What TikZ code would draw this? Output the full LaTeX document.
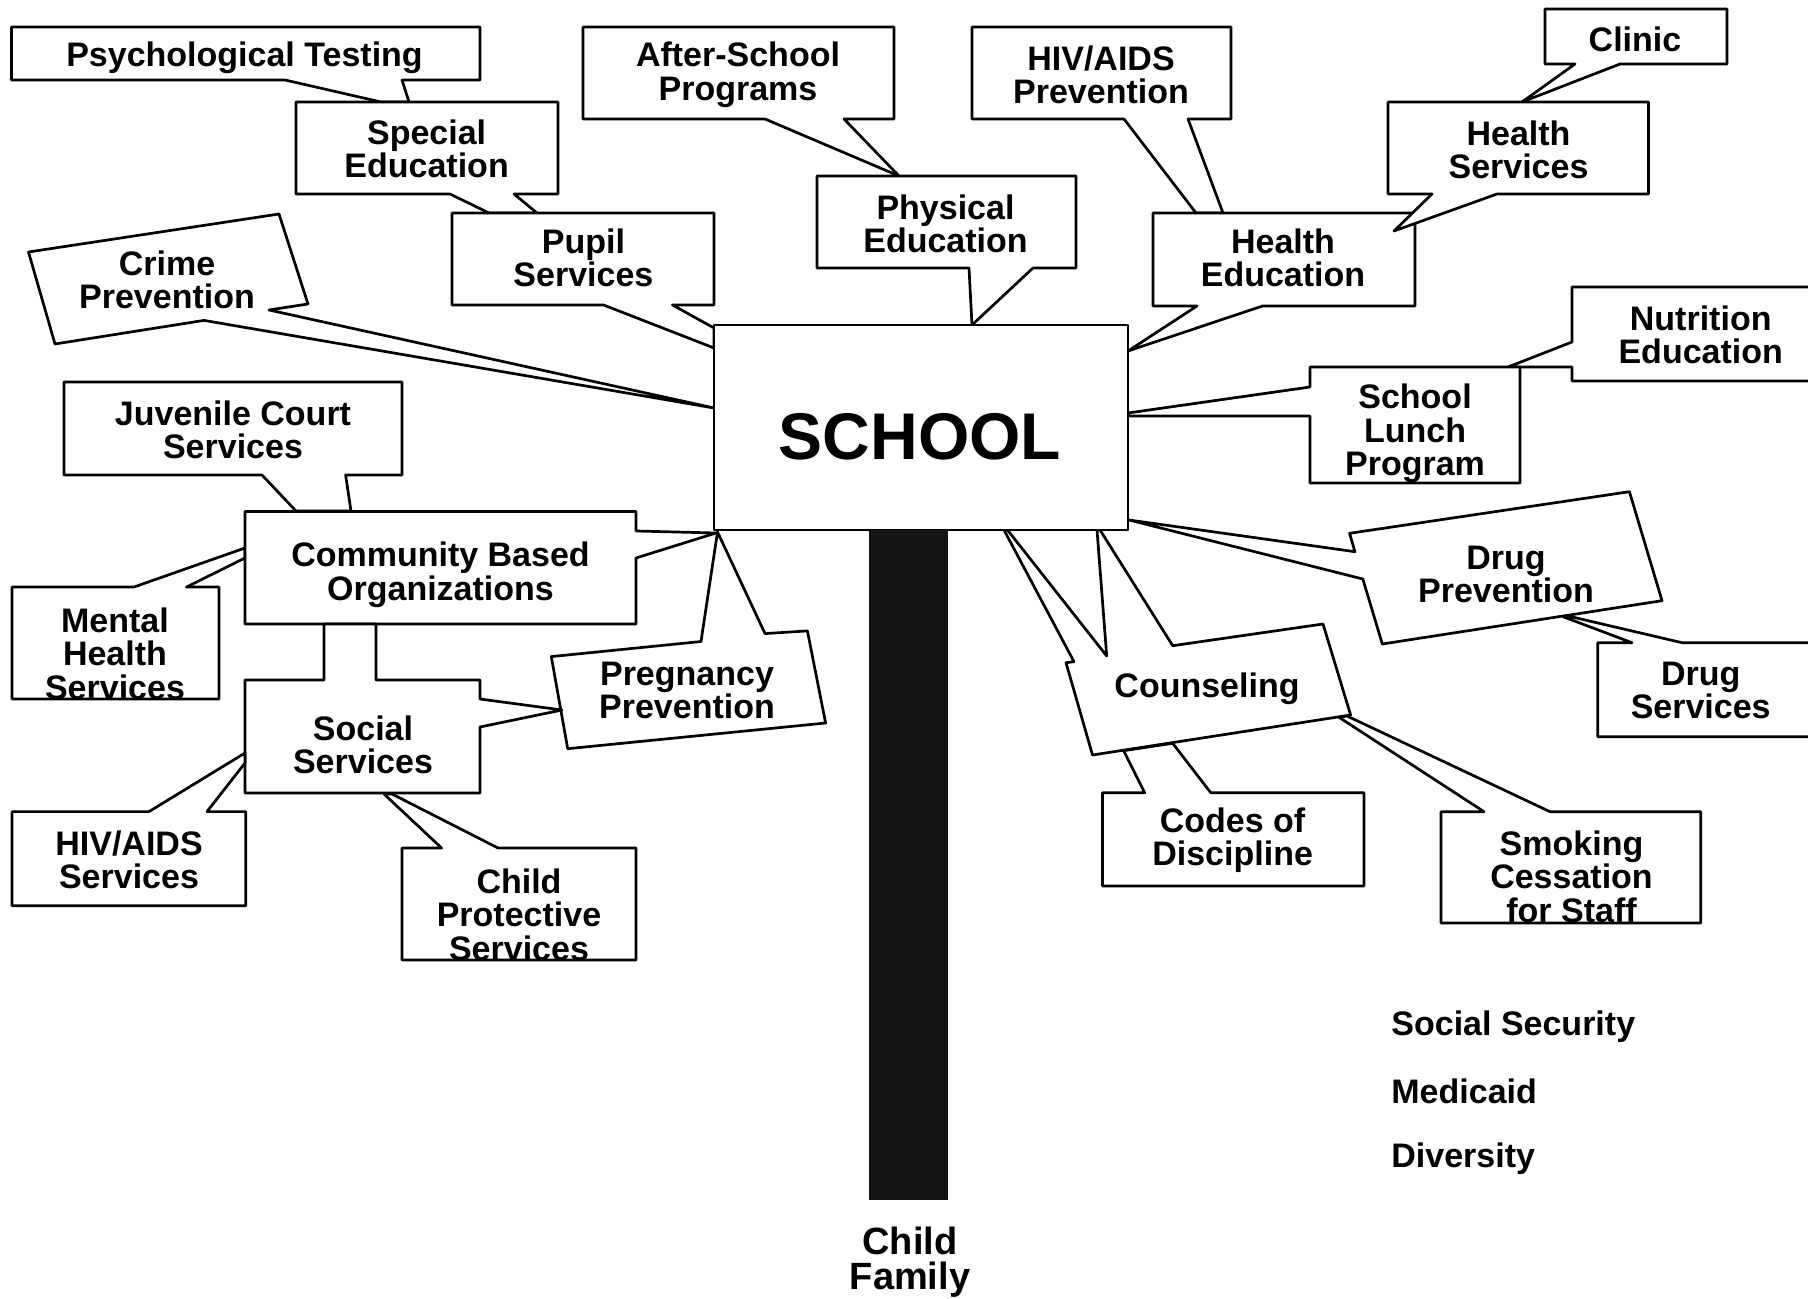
\documentclass[tikz,border=0pt]{standalone}
\usepackage{fontspec}
\setmainfont{Liberation Sans}
\usetikzlibrary{positioning}

\tikzset{
  callout/.style={draw=black,fill=white,line width=1.35pt},
  lbl/.style={font=\bfseries\fontsize{17}{16.7}\selectfont,align=center,inner sep=0pt,yshift=-1.8pt},
  biglbl/.style={font=\bfseries\fontsize{33}{36}\selectfont,inner sep=0pt},
  polelbl/.style={font=\bfseries\fontsize{19}{17.5}\selectfont,align=center,inner sep=0pt},
  listlbl/.style={font=\bfseries\fontsize{17}{17}\selectfont,anchor=west,inner sep=0pt}
}

\begin{document}
\begin{tikzpicture}[line cap=round,line join=round,x=0.5pt,y=-0.5pt]
\useasboundingbox (0,0) rectangle (1808,1299);
\clip (0,0) rectangle (1808,1299);
% top left
\draw [callout] (11.5,27)--(480,27)--(480,80)--(402,80)--(409,102)--(381,102)--(285,80)--(11.5,80)--cycle;
\draw [callout] (296,102)--(558,102)--(558,194)--(514,194)--(537,213)--(489,213)--(450,194)--(296,194)--cycle;
\draw [callout] (28.5,252)--(279,214)--(308,304)--(269,310)--(714,408)--(204,320.4)--(55,344)--cycle;
\draw [callout] (452,213)--(714,213)--(714,305)--(672.5,305)--(714,328)--(714,348)--(603.6,305)--(452,305)--cycle;
% top middle
\draw [callout] (583,27)--(894,27)--(894,119)--(844,119)--(899,176)--(765,119)--(583,119)--cycle;
\draw [callout] (817,176)--(1076,176)--(1076,268)--(1033,268)--(972,325)--(969,268)--(817,268)--cycle;
\draw [callout] (972,27)--(1231,27)--(1231,119)--(1188,119)--(1223,213)--(1196,213)--(1124,119)--(972,119)--cycle;
\draw [callout] (1153,213)--(1415,213)--(1415,306)--(1262.5,306)--(1128,351)--(1197,306)--(1153,306)--cycle;
% top right
\draw [callout] (1545,9)--(1727,9)--(1727,64)--(1620,64)--(1522,102)--(1575,64)--(1545,64)--cycle;
\draw [callout] (1388,102)--(1648.5,102)--(1648.5,194)--(1497,194)--(1394,231)--(1432,194)--(1388,194)--cycle;
\draw [callout] (1572,287)--(1830,287)--(1830,381)--(1572,381)--(1572,367)--(1508,367)--(1572,342)--cycle;
\draw [callout] (1310,367)--(1520,367)--(1520,483)--(1310,483)--(1310,416)--(1128,416)--(1128,413)--(1310,387)--cycle;
% left side
\draw [callout] (64,382)--(402,382)--(402,475)--(345.6,475)--(351,511)--(296,511)--(262,475)--(64,475)--cycle;
\draw [callout] (12,587)--(134,587)--(245,548)--(245,558)--(186.5,587)--(219,587)--(219,699)--(12,699)--cycle;
\draw [callout] (245,511.4)--(636,511.4)--(636,531)--(716,533)--(636,558)--(636,624)--(245,624)--cycle;
\draw [callout] (551.3,656.6)--(701,641.5)--(717.5,532)--(765,633.6)--(807.4,630.9)--(825.6,723)--(567.7,748.7)--cycle;
\draw [callout] (245,680)--(324,680)--(324,624)--(376,624)--(376,680)--(480,680)--(480,699)--(562,710)--(480,727)--(480,793)--(245,793)--cycle;
\draw [callout] (12,811.6)--(149,811.6)--(245,753)--(245,763)--(207,811.6)--(245.7,811.6)--(245.7,905.7)--(12,905.7)--cycle;
\draw [callout] (402,848)--(441.6,848)--(384,794)--(392,794)--(498,848)--(636,848)--(636,960)--(402,960)--cycle;
% right side
\draw [callout] (1597.7,642.7)--(1632,642.7)--(1563,616.7)--(1571,616.7)--(1682,642.7)--(1830,642.7)--(1830,736.7)--(1597.7,736.7)--cycle;
\draw [callout] (1349.6,533.3)--(1629.4,491.7)--(1662,600.7)--(1382.3,644)--(1362.8,579)--(1129,520)--(1354.9,551.7)--cycle;
\draw [callout] (1102.5,792.7)--(1144.7,792.7)--(1123.6,750.7)--(1172.7,743.3)--(1210.7,792.7)--(1364,792.7)--(1364,886)--(1102.5,886)--cycle;
\draw [callout] (1441,811.7)--(1484,811.7)--(1339,717.3)--(1347,716)--(1550,811.7)--(1700.7,811.7)--(1700.7,923)--(1441,923)--cycle;
\draw [callout] (1066,662.7)--(1074,661.7)--(1004,530)--(1007.5,530)--(1106.7,656)--(1097,530)--(1100,530)--(1172.7,645.7)--(1323,624)--(1350.6,715)--(1092.5,755)--cycle;
% school and pole
\draw [callout] (714,325) rectangle (1128,530);
\fill [black!92] (869,530) rectangle (948,1200);
\node [biglbl] (school) at (920,437) {SCHOOL};
\node [polelbl] (child) at (910,1262) {Child\\Family};
% labels
\node [lbl] (psych) at (244.5,54) {Psychological Testing};
\node [lbl] (special) at (426.6,145) {Special\\Education};
\node [lbl] (crime) at (167,276) {Crime\\Prevention};
\node [lbl] (pupil) at (583.4,254) {Pupil\\Services};
\node [lbl] (after) at (738,71) {After-School\\Programs};
\node [lbl] (physed) at (945.5,220) {Physical\\Education};
\node [lbl] (hivprev) at (1101,71) {HIV/AIDS\\Prevention};
\node [lbl] (healthed) at (1283,254) {Health\\Education};
\node [lbl] (clinic) at (1635,36) {Clinic};
\node [lbl] (healthserv) at (1518.5,146) {Health\\Services};
\node [lbl] (nutrition) at (1700.7,331) {Nutrition\\Education};
\node [lbl] (lunch) at (1415,430) {School\\Lunch\\Program};
\node [lbl] (juvenile) at (233,426) {Juvenile Court\\Services};
\node [lbl] (mental) at (115,650) {Mental\\Health\\Services};
\node [lbl] (community) at (440.5,571) {Community Based\\Organizations};
\node [lbl] (pregnancy) at (687,687) {Pregnancy\\Prevention};
\node [lbl] (social) at (363,741) {Social\\Services};
\node [lbl] (hivserv) at (129,856) {HIV/AIDS\\Services};
\node [lbl] (protective) at (519,911) {Child\\Protective\\Services};
\node [lbl] (drugserv) at (1700.7,687) {Drug\\Services};
\node [lbl] (drugprev) at (1506,571) {Drug\\Prevention};
\node [lbl] (codes) at (1232.6,836.5) {Codes of\\Discipline};
\node [lbl] (smoking) at (1571.5,873) {Smoking\\Cessation\\for Staff};
\node [lbl] (counseling) at (1207,685) {Counseling};
\node [listlbl] (socsec) at (1391,1027) {Social Security};
\node [listlbl] (medicaid) at (1391,1091) {Medicaid};
\node [listlbl] (diversity) at (1391,1159) {Diversity};
\end{tikzpicture}
\end{document}
